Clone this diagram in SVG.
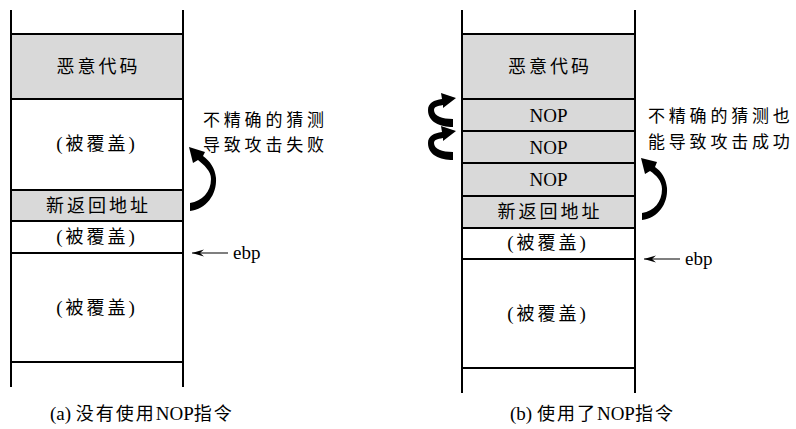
<svg xmlns="http://www.w3.org/2000/svg" width="796" height="429" viewBox="0 0 796 429">
<style>
.ln{stroke:#000;stroke-width:2;fill:none}
.g{fill:#d9d9d9}
.cj{font-family:"Liberation Serif","Noto Sans CJK SC",serif;font-size:18px;letter-spacing:3px;fill:#000}
.lt{font-family:"Liberation Serif","Noto Sans CJK SC",serif;font-size:19px;fill:#000}
.ann{font-family:"Noto Sans CJK SC",sans-serif;font-size:17px;letter-spacing:3.8px;fill:#000}
.mid{text-anchor:middle}
.arr{fill:#000}
</style>
<defs>
<marker id="ah" viewBox="0 0 12 8" refX="12" refY="4" markerWidth="12" markerHeight="8" markerUnits="userSpaceOnUse" orient="auto">
<path d="M0,0.5 L12,4 L0,7.5 L4,4 Z" fill="#000"/>
</marker>
</defs>
<g id="stackA">
<rect class="g" x="11" y="34" width="172" height="65"/>
<rect class="g" x="11" y="190" width="172" height="31"/>
<path class="ln" d="M11,10 V387 M183,10 V387 M11,34 H183 M11,99 H183 M11,190 H183 M11,221 H183 M11,253 H183 M11,362 H183"/>
</g>
<g id="a-code"><text class="cj mid" x="98.5" y="73">恶意代码</text></g>
<g id="a-cov1"><text class="cj mid" x="97" y="150"><tspan class="lt">(</tspan>被覆盖<tspan class="lt">)</tspan></text></g>
<g id="a-ret"><text class="cj mid" x="98.5" y="212">新返回地址</text></g>
<g id="a-cov2"><text class="cj mid" x="97" y="243"><tspan class="lt">(</tspan>被覆盖<tspan class="lt">)</tspan></text></g>
<g id="a-cov3"><text class="cj mid" x="97" y="314"><tspan class="lt">(</tspan>被覆盖<tspan class="lt">)</tspan></text></g>
<g id="a-note"><text class="ann" x="203" y="126">不精确的猜测</text><text class="ann" x="203" y="151">导致攻击失败</text></g>
<g id="a-ebp"><text class="lt" x="233" y="259">ebp</text></g>
<g id="a-cap"><text class="lt" x="50" y="420">(a) <tspan class="cj" style="letter-spacing:2px">没有使用</tspan>NOP<tspan class="cj" style="letter-spacing:2px">指令</tspan></text></g>

<g id="stackB">
<rect class="g" x="462" y="34" width="173" height="194"/>
<path class="ln" d="M462,10 V393 M635,10 V393 M462,34 H635 M462,99 H635 M462,131 H635 M462,163 H635 M462,196 H635 M462,228 H635 M462,259 H635 M462,368 H635"/>
</g>
<g id="b-code"><text class="cj mid" x="550" y="73">恶意代码</text></g>
<g id="b-nop1"><text class="lt mid" x="548.5" y="122">NOP</text></g>
<g id="b-nop2"><text class="lt mid" x="548.5" y="154">NOP</text></g>
<g id="b-nop3"><text class="lt mid" x="548.5" y="186">NOP</text></g>
<g id="b-ret"><text class="cj mid" x="550" y="218">新返回地址</text></g>
<g id="b-cov1"><text class="cj mid" x="548" y="249"><tspan class="lt">(</tspan>被覆盖<tspan class="lt">)</tspan></text></g>
<g id="b-cov2"><text class="cj mid" x="548" y="320"><tspan class="lt">(</tspan>被覆盖<tspan class="lt">)</tspan></text></g>
<g id="b-note"><text class="ann" x="648" y="122">不精确的猜测也</text><text class="ann" x="648" y="148">能导致攻击成功</text></g>
<g id="b-ebp"><text class="lt" x="685" y="265">ebp</text></g>
<g id="b-cap"><text class="lt" x="510" y="420">(b) <tspan class="cj" style="letter-spacing:2px">使用了</tspan>NOP<tspan class="cj" style="letter-spacing:2px">指令</tspan></text></g>

<g id="connectors">
<path class="arr" d="M190,211 C206,209 217,195 216,178 C215,168 210,161 203,156 L205,152 L189,147 L193,163 L198,160 C204,165 211,171 211,179 C211,192 202,201 190,203 Z"/>
<path class="arr" d="M642,220 C658,218 668,204 667,188 C666,178 661,171 655,167 L657,162 L641,158 L645,174 L650,171 C656,175 662,181 662,189 C662,202 654,211 642,213 Z"/>
<path class="arr" d="M453,127 C440,127 428,122 428,110 C428,103 434,100 442,99 L441,93 L456,98 L443,108 L443,105 C437,106 434,107 434,110 C434,116 442,119 453,119 Z"/>
<path class="arr" d="M453,160 C440,160 428,155 428,143 C428,136 434,133 442,132 L441,126 L456,131 L443,141 L443,138 C437,139 434,140 434,143 C434,149 442,152 453,152 Z"/>
<line class="ln" style="stroke-width:1.2" x1="228" y1="253" x2="192" y2="253" marker-end="url(#ah)"/>
<line class="ln" style="stroke-width:1.2" x1="680" y1="259" x2="644" y2="259" marker-end="url(#ah)"/>
</g>
</svg>
